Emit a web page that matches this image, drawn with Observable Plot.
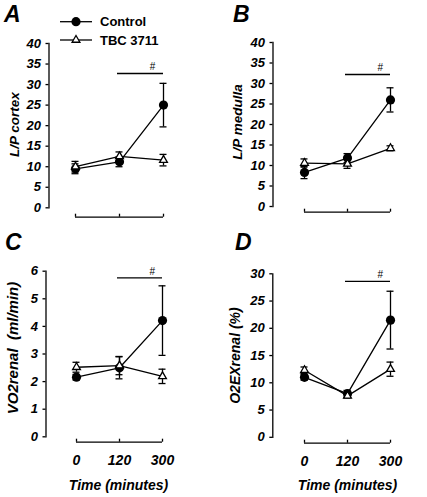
<!DOCTYPE html>
<html><head><meta charset="utf-8">
<script src="https://cdn.jsdelivr.net/npm/d3@7"></script>
<script src="https://cdn.jsdelivr.net/npm/@observablehq/plot@0.6"></script>
<style>
html,body{margin:0;padding:0;background:#fff;}
#fig{position:relative;width:427px;height:497px;overflow:hidden;background:#fff;}
#fig .panel{position:absolute;}
#overlay{position:absolute;left:0;top:0;pointer-events:none;}
</style></head>
<body><div id="fig"></div>
<script>
// ---- data ----
const times = ["0", "120", "300"];
const seriesNames = ["Control", "TBC 3711"];
const panelLetters = ["A", "B", "C", "D"];
const yLabels = ["L/P cortex", "L/P medulla", "VO2renal  (ml/min)", "O2EXrenal (%)"];
const xLabel = "Time (minutes)";
const hashText = "#";

const cortexControl = [9.5, 11.2, 25.0];
const cortexControlErr = [1.2, 1.2, 5.3];
const cortexTBC = [10.0, 12.5, 11.6];
const cortexTBCErr = [1.3, 1.1, 1.4];
const cortexTicks = [0, 5, 10, 15, 20, 25, 30, 35, 40];
const cortexHash = 32.7;

const medullaControl = [8.3, 11.8, 26.0];
const medullaControlErr = [1.5, 1.1, 2.95];
const medullaTBC = [10.6, 10.4, 14.2];
const medullaTBCErr = [1.0, 1.1, 0.6];
const medullaTicks = [0, 5, 10, 15, 20, 25, 30, 35, 40];
const medullaHash = 32.2;

const vo2Control = [2.16, 2.5, 4.21];
const vo2ControlErr = [0.1, 0.4, 1.26];
const vo2TBC = [2.52, 2.58, 2.19];
const vo2TBCErr = [0.18, 0.33, 0.26];
const vo2Ticks = [0, 1, 2, 3, 4, 5, 6];
const vo2Hash = 5.76;

const o2exControl = [11.0, 8.0, 21.5];
const o2exControlErr = [0.5, 0.6, 5.3];
const o2exTBC = [12.3, 7.6, 12.5];
const o2exTBCErr = [0.6, 0.4, 1.3];
const o2exTicks = [0, 5, 10, 15, 20, 25, 30];
const o2exHash = 28.6;

// ---- layout (pixels) ----
const FONT = '"Liberation Sans", Arial, Helvetica, sans-serif';
const panels = [
  {ctrl: cortexControl, ce: cortexControlErr, tbc: cortexTBC, te: cortexTBCErr, ticks: cortexTicks, hash: cortexHash,
   left: 0, top: 0, width: 213, height: 240, axisX: 48.5, yTop: 43, yBottom: 207.3, xRange: [53, 185],
   gap: 9.4, mr: 20, labDx: -34.5, labDy: -1, labSize: 13.5, showX: false},
  {ctrl: medullaControl, ce: medullaControlErr, tbc: medullaTBC, te: medullaTBCErr, ticks: medullaTicks, hash: medullaHash,
   left: 214, top: 0, width: 213, height: 240, axisX: 58.5, yTop: 42, yBottom: 206, xRange: [66.7, 198.3],
   gap: 5.7, mr: 8, labDx: -35.8, labDy: -2.5, labSize: 13.5, showX: false},
  {ctrl: vo2Control, ce: vo2ControlErr, tbc: vo2TBC, te: vo2TBCErr, ticks: vo2Ticks, hash: vo2Hash,
   left: 0, top: 240, width: 213, height: 257, axisX: 45.5, yTop: 30.7, yBottom: 196.3, xRange: [52.7, 184.3],
   gap: 5.4, mr: 22.5, labDx: -32.5, labDy: -6, labSize: 15, showX: true, timeDy: 48.7},
  {ctrl: o2exControl, ce: o2exControlErr, tbc: o2exTBC, te: o2exTBCErr, ticks: o2exTicks, hash: o2exHash,
   left: 214, top: 240, width: 213, height: 257, axisX: 58.3, yTop: 33.3, yBottom: 196.8, xRange: [66.7, 198.3],
   gap: 5.9, mr: 5.3, labDx: -37.6, labDy: 0, labSize: 14, showX: true, timeDy: 48.2}
];

const fig = document.getElementById("fig");
const SW = 1.3;

panels.forEach((p, k) => {
  const rows = times.map((t, i) => ({t, c: p.ctrl[i], ce: p.ce[i], b: p.tbc[i], be: p.te[i]}));
  const hashRow = [{a: times[1], b: times[2], y: p.hash}];
  const span = p.xRange[1] - p.xRange[0];
  const marks = [
    Plot.frame({anchor: "left", strokeWidth: SW}),
    Plot.axisY({ticks: p.ticks, tickSize: 3, tickPadding: 5, tickFormat: d => String(d), strokeWidth: SW, fontSize: 13}),
    Plot.ruleY([{a: times[0], b: times[2]}], {x1: "a", x2: "b", y: () => 0, dy: p.gap, strokeWidth: SW}),
    Plot.ruleX(times, {x: d => d, y1: () => 0, y2: () => 0, insetTop: -3, dy: p.gap, strokeWidth: SW}),
    // error bars
    Plot.ruleX(rows, {x: "t", y1: d => d.c - d.ce, y2: d => d.c + d.ce, strokeWidth: SW}),
    Plot.ruleY(rows, {x1: "t", x2: "t", y: d => d.c + d.ce, insetLeft: -3.5, insetRight: -3.5, strokeWidth: SW}),
    Plot.ruleY(rows, {x1: "t", x2: "t", y: d => d.c - d.ce, insetLeft: -3.5, insetRight: -3.5, strokeWidth: SW}),
    Plot.ruleX(rows, {x: "t", y1: d => d.b - d.be, y2: d => d.b + d.be, strokeWidth: SW}),
    Plot.ruleY(rows, {x1: "t", x2: "t", y: d => d.b + d.be, insetLeft: -3.5, insetRight: -3.5, strokeWidth: SW}),
    Plot.ruleY(rows, {x1: "t", x2: "t", y: d => d.b - d.be, insetLeft: -3.5, insetRight: -3.5, strokeWidth: SW}),
    // lines
    Plot.line(rows, {x: "t", y: "c", stroke: "black", strokeWidth: SW}),
    Plot.line(rows, {x: "t", y: "b", stroke: "black", strokeWidth: SW}),
    // markers
    Plot.dot(rows, {x: "t", y: "c", r: 4.6, fill: "black", stroke: "none"}),
    Plot.dot(rows, {x: "t", y: "b", symbol: "triangle", r: 2.9, fill: "white", stroke: "black", strokeWidth: SW}),
    // significance bar
    Plot.ruleY(hashRow, {x1: "a", x2: "b", y: "y", insetLeft: -2, strokeWidth: SW}),
    Plot.text(hashRow, {x: "a", y: "y", text: () => hashText, dx: span / 4, dy: -3, lineAnchor: "bottom",
      fontSize: 10, fontStyle: "normal", fontWeight: "normal"}),
    // y label
    Plot.text([yLabels[k]], {text: d => d, frameAnchor: "left", textAnchor: "middle", lineAnchor: "middle",
      rotate: -90, dx: p.labDx, dy: p.labDy,
      fontSize: p.labSize, fontWeight: "bold", fontStyle: "italic"})
  ];
  if (p.showX) {
    marks.push(Plot.axisX({tickSize: 0, tickPadding: 18.5, fontSize: 14}));
    marks.push(Plot.text([xLabel], {text: d => d, frameAnchor: "bottom", textAnchor: "middle", lineAnchor: "middle",
      dy: p.timeDy, fontSize: 14, fontWeight: "bold", fontStyle: "italic"}));
  }
  const chart = Plot.plot({
    width: p.width,
    height: p.height,
    marginLeft: p.axisX,
    marginTop: p.yTop,
    marginBottom: p.height - p.yBottom,
    marginRight: p.mr,
    x: {type: "point", domain: times, range: p.xRange, axis: p.showX ? undefined : null},
    y: {domain: [p.ticks[0], p.ticks[p.ticks.length - 1]]},
    style: {fontFamily: FONT, fontSize: "13px", fontWeight: "bold", fontStyle: "italic",
      background: "transparent", overflow: "visible", color: "black"},
    marks
  });
  chart.classList.add("panel");
  chart.style.left = p.left + "px";
  chart.style.top = p.top + "px";
  fig.appendChild(chart);
});

// ---- overlay: panel letters and legend ----
const ov = d3.select(fig).append("svg").attr("id", "overlay").attr("width", 427).attr("height", 497);
const letterPos = [[4, 22], [233, 22], [5, 250], [235, 250]];
panelLetters.forEach((L, i) => {
  ov.append("text").attr("x", letterPos[i][0]).attr("y", letterPos[i][1]).text(L)
    .attr("font-family", FONT).attr("font-size", 23).attr("font-weight", "bold").attr("font-style", "italic");
});
const legRows = [21.7, 40];
seriesNames.forEach((name, i) => {
  const y = legRows[i];
  ov.append("line").attr("x1", 60).attr("x2", 92).attr("y1", y).attr("y2", y)
    .attr("stroke", "black").attr("stroke-width", SW);
  if (i === 0) {
    ov.append("circle").attr("cx", 76).attr("cy", y).attr("r", 4.6).attr("fill", "black");
  } else {
    ov.append("path").attr("d", d3.symbol(d3.symbolTriangle, Math.PI * 2.9 * 2.9)())
      .attr("transform", `translate(76,${y})`).attr("fill", "white").attr("stroke", "black").attr("stroke-width", SW);
  }
  ov.append("text").attr("x", 100).attr("y", y + 4.7).text(name)
    .attr("font-family", FONT).attr("font-size", 13).attr("font-weight", "bold");
});
</script>
</body></html>
